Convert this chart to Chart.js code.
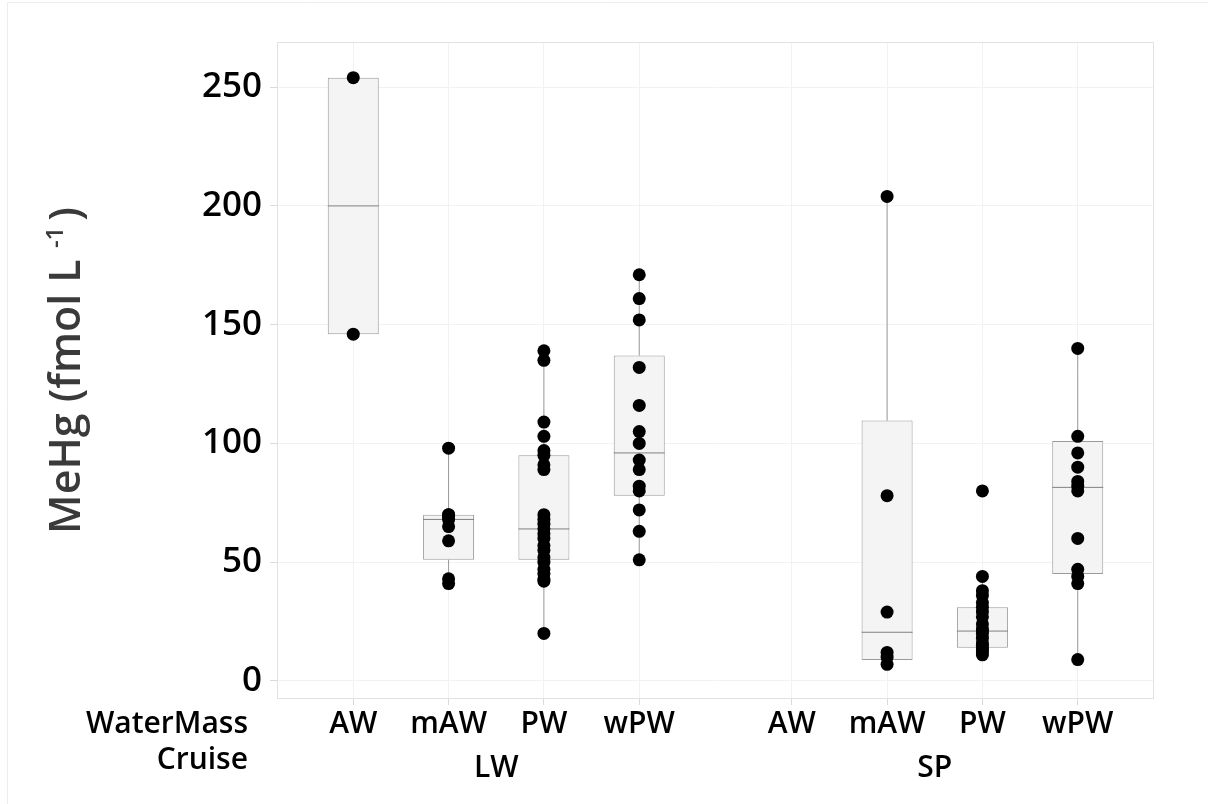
<!DOCTYPE html>
<html>
<head>
<meta charset="utf-8">
<script src="https://cdn.jsdelivr.net/npm/chart.js@4.4.1/dist/chart.umd.min.js"></script>
<style>
  html, body { margin: 0; padding: 0; background: #fff; }
  #wrap { position: relative; width: 1208px; height: 804px; }
</style>
</head>
<body>
<div id="wrap"><canvas id="chart"></canvas></div>
<script>
// Categories
const cruises = ['LW', 'SP'];
const waterMasses = ['AW', 'mAW', 'PW', 'wPW'];
const yTicks = [0, 50, 100, 150, 200, 250];

// Box stats, one entry per group: LW AW, mAW, PW, wPW, then SP AW, mAW, PW, wPW
const q1 =          [146,  51,  51,  78, null,   8.8, 14,  45];
const median =      [200,  68,  64,  96, null,  20.5, 21,  81.5];
const q3 =          [254,  70,  95, 137, null, 109.6, 31, 101];
const whiskerLow =  [146,  41,  20,  51, null,   8.8, 11,   9];
const whiskerHigh = [254,  98, 139.5, 171, null, 204, 44, 140];

// Individual samples (fmol/L)
const lwAW  = [254, 146];
const lwMAW = [98, 70, 70, 69, 68, 65, 59, 43, 41];
const lwPW  = [139, 135, 109, 103, 97, 95, 91, 89, 70, 68, 66, 64, 62, 60, 57, 55, 52, 50, 47, 45, 43, 42, 20];
const lwWPW = [171, 161, 152, 132, 116, 105, 100, 93, 89, 82, 80, 72, 63, 51];
const spAW  = [];
const spMAW = [204, 78, 29, 12, 10, 7];
const spPW  = [80, 44, 38, 36, 33, 31, 29, 27, 24, 22, 21, 20, 18, 16, 15, 14, 13, 12, 11];
const spWPW = [140, 103, 96, 90, 84, 82, 80, 60, 47, 44, 41, 9];
const samples = [lwAW, lwMAW, lwPW, lwWPW, spAW, spMAW, spPW, spWPW];

// layout helpers
const groupGap = 0.6;
const boxWidth = 0.535;
const posOf = (g, i) => 1 + i + g * (waterMasses.length + groupGap);
const positions = [];
cruises.forEach((c, g) => waterMasses.forEach((w, i) => positions.push(posOf(g, i))));
const cruiseCenters = cruises.map((c, g) => (posOf(g, 0) + posOf(g, waterMasses.length - 1)) / 2);

const boxData = [], whiskerData = [], medianData = [], pointData = [];
positions.forEach((x, k) => {
    if (q1[k] !== null) {
        boxData.push({ x: x, y: [q1[k], q3[k]] });
        whiskerData.push({ x: x, y: q3[k] }, { x: x, y: whiskerHigh[k] }, { x: x, y: null });
        whiskerData.push({ x: x, y: whiskerLow[k] }, { x: x, y: q1[k] }, { x: x, y: null });
        medianData.push({ x: x - boxWidth / 2, y: median[k] }, { x: x + boxWidth / 2, y: median[k] }, { x: x, y: null });
    }
    samples[k].forEach(v => pointData.push({ x: x, y: v }));
});

const FONT = "'Open Sans', 'Noto Sans', sans-serif";
Chart.defaults.font.family = FONT;

const decorations = {
    id: 'decorations',
    beforeDatasetsDraw(chart) {
        const { ctx, chartArea: a } = chart;
        ctx.save();
        ctx.strokeStyle = '#e2e2e2';
        ctx.lineWidth = 1;
        ctx.strokeRect(a.left + 0.5, a.top + 0.5, a.right - a.left - 1, a.bottom - a.top - 1);
        ctx.restore();
    },
    afterDraw(chart) {
        const { ctx, chartArea: a } = chart;
        ctx.save();
        // outer frame
        ctx.strokeStyle = '#ececec';
        ctx.beginPath();
        ctx.moveTo(7.5, 804); ctx.lineTo(7.5, 2.5); ctx.lineTo(1208, 2.5);
        ctx.stroke();

        // row labels for the two x axes
        const xs = chart.scales.x, xs2 = chart.scales.x2;
        ctx.fillStyle = '#000';
        ctx.font = '600 30px ' + FONT;
        ctx.textAlign = 'right';
        ctx.textBaseline = 'middle';
        ctx.fillText('WaterMass', 248, xs.top + 6 + 1 + 18);
        ctx.fillText('Cruise', 248, xs2.top + 1 + 18);

        // y title with superscript
        const main = 'MeHg (fmol L ', sup = '-1', tail = ')';
        const mainFont = '600 43px ' + FONT, supFont = '600 24px ' + FONT;
        ctx.font = mainFont;
        const w1 = ctx.measureText(main).width, w3 = ctx.measureText(tail).width;
        ctx.font = supFont;
        const w2 = ctx.measureText(sup).width + 6;
        const total = w1 + w2 + w3;
        ctx.translate(80, (a.top + a.bottom) / 2);
        ctx.rotate(-Math.PI / 2);
        ctx.fillStyle = '#3a3a3a';
        ctx.textAlign = 'left';
        ctx.textBaseline = 'alphabetic';
        let x0 = -total / 2;
        ctx.font = mainFont;
        ctx.fillText(main, x0, 0);
        ctx.font = supFont;
        ctx.fillText(sup, x0 + w1, -17);
        ctx.font = mainFont;
        ctx.fillText(tail, x0 + w1 + w2, 0);
        ctx.restore();
    }
};

new Chart(document.getElementById('chart'), {
    type: 'scatter',
    data: {
        datasets: [
            {
                type: 'line',
                data: whiskerData,
                borderColor: '#9a9a9a',
                borderWidth: 1,
                pointRadius: 0,
                spanGaps: false,
                fill: false,
                order: 4
            },
            {
                type: 'bar',
                data: boxData,
                backgroundColor: '#f4f4f4',
                borderColor: '#9a9a9a',
                borderWidth: 1,
                borderSkipped: false,
                barPercentage: boxWidth,
                categoryPercentage: 1,
                order: 3
            },
            {
                type: 'line',
                data: medianData,
                borderColor: '#808080',
                borderWidth: 1,
                pointRadius: 0,
                spanGaps: false,
                fill: false,
                order: 2
            },
            {
                type: 'scatter',
                data: pointData,
                backgroundColor: '#000',
                borderWidth: 0,
                pointRadius: 6.5,
                order: 1
            }
        ]
    },
    options: {
        responsive: true,
        maintainAspectRatio: false,
        animation: false,
        layout: { padding: { top: 42, right: 54, left: 0, bottom: 23 } },
        plugins: {
            legend: { display: false },
            tooltip: { enabled: false }
        },
        scales: {
            x: {
                type: 'linear',
                min: 0.2,
                max: 9.4,
                offset: false,
                afterBuildTicks: s => { s.ticks = positions.map(v => ({ value: v })); },
                afterFit: s => { s.height = 42; },
                grid: { color: '#f2f2f2', tickColor: '#dadada', tickLength: 6, offset: false },
                border: { display: false },
                ticks: {
                    autoSkip: false,
                    maxRotation: 0,
                    padding: 1,
                    color: '#000',
                    font: { size: 30, weight: '600' },
                    callback: (v, i) => waterMasses[i % waterMasses.length]
                }
            },
            x2: {
                type: 'linear',
                position: 'bottom',
                min: 0.2,
                max: 9.4,
                offset: false,
                afterBuildTicks: s => { s.ticks = cruiseCenters.map(v => ({ value: v })); },
                afterFit: s => { s.height = 40; },
                grid: { display: false },
                border: { display: false },
                ticks: {
                    autoSkip: false,
                    maxRotation: 0,
                    padding: 1,
                    color: '#000',
                    font: { size: 30, weight: '600' },
                    callback: (v, i) => cruises[i]
                }
            },
            y: {
                min: -7.6,
                max: 269,
                afterBuildTicks: s => { s.ticks = yTicks.map(v => ({ value: v })); },
                afterFit: s => { s.width = 277; },
                grid: { color: '#f2f2f2', tickColor: '#dadada', tickLength: 7 },
                border: { display: false },
                ticks: {
                    padding: 8,
                    color: '#000',
                    font: { size: 35, weight: '600' }
                }
            }
        }
    },
    plugins: [decorations]
});
</script>
</body>
</html>
